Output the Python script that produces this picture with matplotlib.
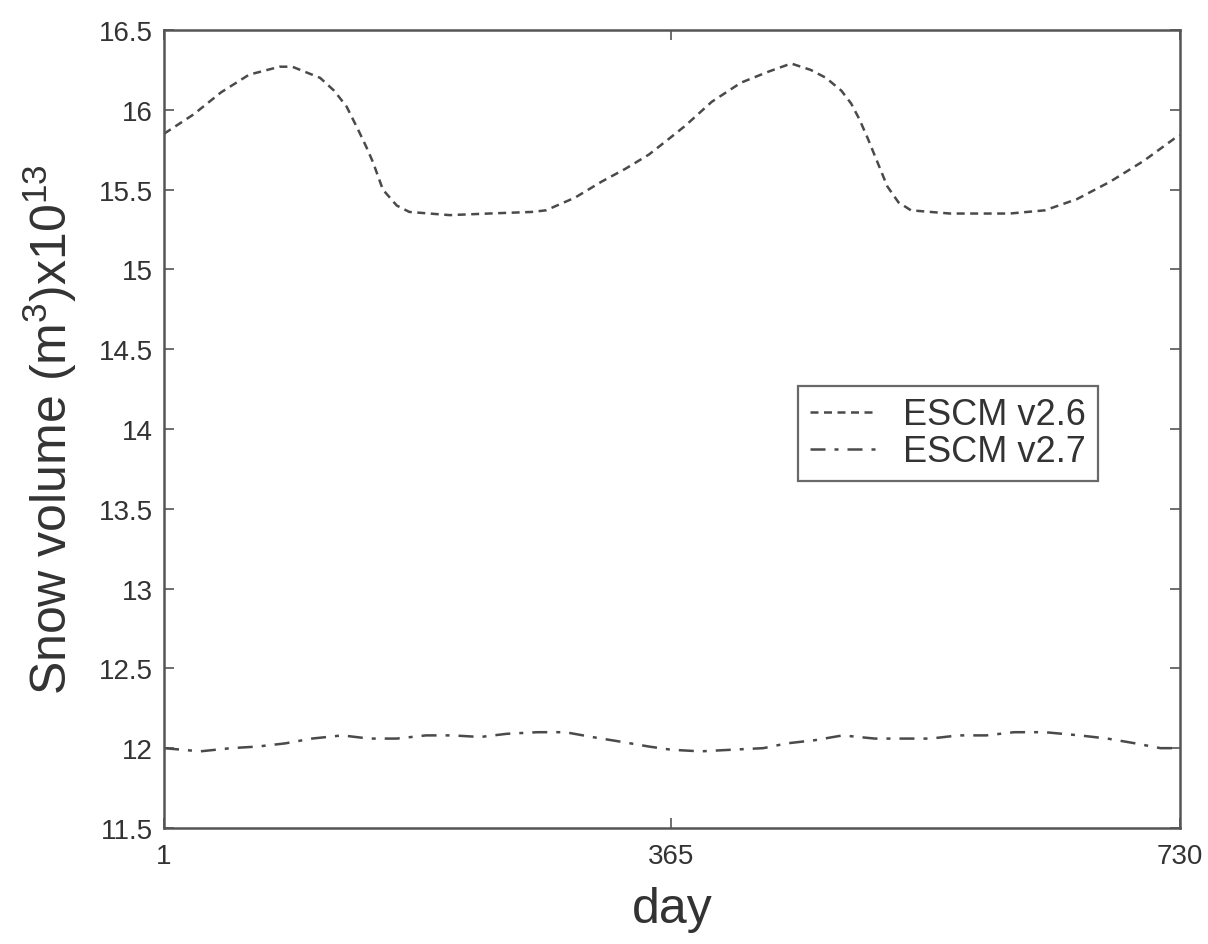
import matplotlib.pyplot as plt

plt.rcParams['font.family'] = ['Liberation Sans', 'DejaVu Sans']
plt.rcParams['mathtext.fontset'] = 'custom'
plt.rcParams['mathtext.rm'] = 'Liberation Sans'
plt.rcParams['mathtext.it'] = 'Liberation Sans'

# snow volume, ESCM v2.6
days_v26 = [1, 22, 42, 62, 84, 93, 113, 123, 132, 140, 146, 151, 158, 168, 177,
            206, 234, 265, 275, 296, 315, 332, 349, 365,
            375, 394, 415, 435, 451, 465, 476, 487, 494, 500, 506, 513, 520, 528, 537,
            565, 608, 633, 656, 680, 704, 726, 730]
vol_v26 = [15.85, 15.97, 16.11, 16.22, 16.27, 16.27, 16.20, 16.12, 16.02, 15.88, 15.77, 15.67, 15.50, 15.40, 15.36,
           15.34, 15.35, 15.36, 15.37, 15.45, 15.55, 15.63, 15.72, 15.83,
           15.90, 16.05, 16.17, 16.24, 16.29, 16.25, 16.20, 16.12, 16.04, 15.94, 15.82, 15.67, 15.52, 15.42, 15.37,
           15.35, 15.35, 15.37, 15.44, 15.55, 15.68, 15.82, 15.84]

# snow volume, ESCM v2.7
days_v27 = [1, 27, 49, 68, 88, 107, 129, 148, 168, 189, 208, 228, 247, 269, 289, 308, 329, 349,
            365, 386, 408, 431, 448, 468, 488, 511, 531, 551, 571, 591, 611, 633, 658, 678, 698, 716, 730]
vol_v27 = [12.00, 11.98, 12.00, 12.01, 12.03, 12.06, 12.08, 12.06, 12.06, 12.08, 12.08, 12.07, 12.09, 12.10, 12.10, 12.07, 12.04, 12.01,
           11.99, 11.98, 11.99, 12.00, 12.03, 12.05, 12.08, 12.06, 12.06, 12.06, 12.08, 12.08, 12.10, 12.10, 12.08, 12.06, 12.03, 12.00, 12.00]

xticks = [1, 365, 730]
yticks = [11.5, 12, 12.5, 13, 13.5, 14, 14.5, 15, 15.5, 16, 16.5]
ytick_labels = ['11.5', '12', '12.5', '13', '13.5', '14', '14.5', '15', '15.5', '16', '16.5']

fig = plt.figure(figsize=(12.08, 9.45), dpi=100)
ax = fig.add_axes([0.1358, 0.1228, 0.841, 0.8444])

ax.plot(days_v26, vol_v26, color='#4a4a4a', lw=1.8, linestyle=(0, (3.2, 2.2)), label='ESCM v2.6')
ax.plot(days_v27, vol_v27, color='#4a4a4a', lw=1.8, linestyle=(0, (6, 3.6, 1.6, 3.6)), label='ESCM v2.7')

ax.set_xlim(1, 730)
ax.set_ylim(11.5, 16.5)
ax.set_xticks(xticks)
ax.set_xticklabels([str(t) for t in xticks])
ax.set_yticks(yticks)
ax.set_yticklabels(ytick_labels)
ax.tick_params(direction='in', length=7, width=1.2, color='#555555', labelcolor='#333333',
               labelsize=20, top=True, right=True)
ax.tick_params(axis='y', pad=8)
ax.tick_params(axis='x', pad=11)
for s in ax.spines.values():
    s.set_color('#555555')
    s.set_linewidth(1.8)

ax.set_xlabel('day', fontsize=36, color='#333333', labelpad=12)
ax.set_ylabel('Snow volume (m$^3$)x10$^{13}$', fontsize=36, color='#333333', labelpad=14)

leg = ax.legend(loc='upper left', bbox_to_anchor=(0.624, 0.554), fontsize=26, frameon=True,
                fancybox=False, handlelength=1.8, handletextpad=0.8, borderpad=0.32,
                labelspacing=0.05, borderaxespad=0, labelcolor='#333333')
leg.get_frame().set_edgecolor('#444444')
leg.get_frame().set_linewidth(1.6)

plt.savefig('out.png', dpi=100)
